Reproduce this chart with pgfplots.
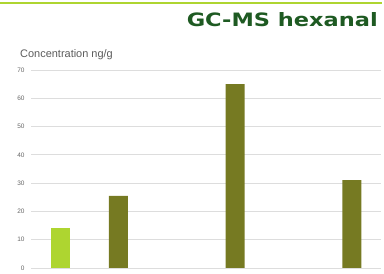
\documentclass[border=0pt]{standalone}
\usepackage{fontspec}
\setmainfont{Liberation Sans}
\newfontfamily\titlefont{DejaVu Sans}
\usepackage{graphicx}
\usepackage{pgfplots}
\pgfplotsset{compat=1.18}
\definecolor{lime}{HTML}{AED530}
\definecolor{olive}{HTML}{767A22}
\definecolor{titlegreen}{HTML}{1E5A22}
\definecolor{gridgray}{HTML}{DDDDDD}
\definecolor{ticklab}{HTML}{666666}
\begin{document}
\begin{tikzpicture}[x=1bp,y=1bp]
\useasboundingbox (0,0) rectangle (384,274);
\draw[lime, line width=1.6bp] (0,271) -- (382,271);
\node[anchor=base east, inner sep=0pt, text=titlegreen, font=\titlefont\bfseries\fontsize{18.5}{20}\selectfont] at (378,247.5) {\scalebox{1.22}[1]{GC-MS hexanal}};
\node[anchor=base west, inner sep=0pt, text=ticklab!90!black, font=\fontsize{11}{12}\selectfont] at (20,216.5) {Concentration ng/g};
\begin{axis}[
  at={(31bp,6bp)}, anchor=south west,
  scale only axis, width=350bp, height=198bp,
  xmin=-0.5, xmax=5.5, ymin=0, ymax=70,
  ytick={0,10,...,70},
  xtick=\empty,
  axis line style={draw=none},
  ymajorgrids, grid style={gridgray, line width=0.8bp},
  major tick length=0pt,
  tick label style={font=\fontsize{6.5}{7}\selectfont, text=ticklab},
  /pgf/number format/assume math mode=true,
  yticklabel style={xshift=-3bp},
  ybar, bar width=19bp, bar shift=0pt,
]
\addplot[fill=lime, draw=none] coordinates {(0,14.1)};
\addplot[fill=olive, draw=none] coordinates {(1,25.5) (3,65.0) (5,31.1)};
\end{axis}
\end{tikzpicture}
\end{document}
